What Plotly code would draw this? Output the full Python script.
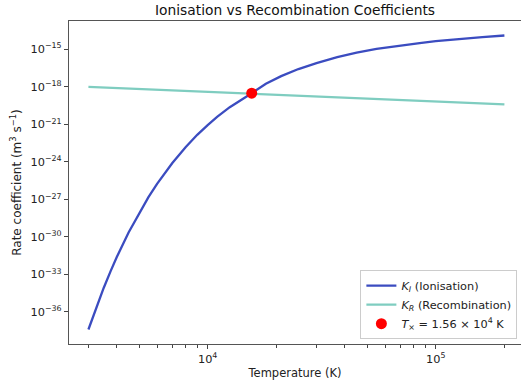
import plotly.graph_objects as go
import numpy as np

# Temperatures (K) and ionisation coefficients
T_ion = [3000, 3250, 3500, 3750, 4000, 4500, 5000, 5500, 6000, 7000, 8000, 9000,
         10000, 11000, 12500, 14000, 15600, 18000, 21000, 25000, 30000, 37000,
         45000, 55000, 70000, 85000, 100000, 125000, 160000, 200000]
K_ion = [3.98e-38, 2.43e-36, 8.3e-35, 1.76e-33, 2.57e-32, 2.24e-30, 7.9e-29, 1.51e-27,
         1.74e-26, 8.1e-25, 1.48e-23, 1.45e-22, 8.7e-22, 3.9e-21, 2.34e-20, 9.5e-20,
         3.1e-19, 1.78e-18, 7.1e-18, 2.63e-17, 7.9e-17, 2.34e-16, 5.4e-16, 1.07e-15,
         2.09e-15, 3.16e-15, 4.47e-15, 6.6e-15, 9.5e-15, 1.26e-14]

# Recombination coefficients
T_rec = [3000, 10000, 100000, 200000]
K_rec = [1.0e-18, 3.94e-19, 6.65e-20, 3.89e-20]

# Crossing point
T_cross = [15600]
K_cross = [3.1e-19]

x_major = [1e4, 1e5]
x_major_text = ["10<sup>4</sup>", "10<sup>5</sup>"]
x_minor = [3000, 4000, 5000, 6000, 7000, 8000, 9000,
           20000, 30000, 40000, 50000, 60000, 70000, 80000, 90000, 200000]
y_exps = [-15, -18, -21, -24, -27, -30, -33, -36]

fig = go.Figure()
fig.add_trace(go.Scatter(x=T_ion, y=K_ion, mode="lines", line=dict(color="#3b4cc0", width=2.3),
                         name="<i>K<sub>I</sub></i> (Ionisation)"))
fig.add_trace(go.Scatter(x=T_rec, y=K_rec, mode="lines", line=dict(color="#7fcdc0", width=2.3),
                         name="<i>K<sub>R</sub></i> (Recombination)"))
fig.add_trace(go.Scatter(x=T_cross, y=K_cross, mode="markers", marker=dict(color="#ff0000", size=11),
                         name="<i>T</i><sub>×</sub> = 1.56 × 10<sup>4</sup> K"))

font = "DejaVu Sans"
fig.update_layout(
    width=521, height=387,
    margin=dict(l=69, r=0, t=21, b=43),
    paper_bgcolor="white", plot_bgcolor="white",
    font=dict(family=font, size=11, color="#222"),
    title=dict(text="Ionisation vs Recombination Coefficients", x=0.5, xanchor="center", xref="paper",
               y=1 - 10.5 / 387, yanchor="middle", yref="container",
               font=dict(size=13.8, family=font, color="#111")),
    showlegend=True,
    legend=dict(x=0.992, y=0.015, xanchor="right", yanchor="bottom",
                bgcolor="rgba(255,255,255,0.8)", bordercolor="#ccc", borderwidth=1,
                font=dict(size=11.3, family=font, color="#222"),
                tracegroupgap=0, itemwidth=30),
)
fig.update_xaxes(type="log", range=[np.log10(2466), np.log10(236500)],
                 tickvals=x_major, ticktext=x_major_text, ticks="outside", ticklen=4,
                 tickcolor="#444", showgrid=False, zeroline=False,
                 showline=True, linecolor="#555", linewidth=1.2, mirror=True,
                 tickfont=dict(size=11.3),
                 minor=dict(tickvals=x_minor, ticks="outside", ticklen=2.5, tickcolor="#444", showgrid=False),
                 title=dict(text="Temperature (K)", standoff=4, font=dict(size=11.5)))
fig.update_yaxes(type="log", range=[-38.56, -12.74],
                 tickvals=[10.0 ** e for e in y_exps],
                 ticktext=["10<sup>−%d</sup>" % (-e) for e in y_exps],
                 ticks="outside", ticklen=4, tickcolor="#444",
                 showgrid=False, zeroline=False, tickfont=dict(size=11.3),
                 showline=True, linecolor="#555", linewidth=1.2, mirror=False,
                 title=dict(text="Rate coefficient (m<sup>3</sup> s<sup>−1</sup>)", standoff=6, font=dict(size=12)))

fig.write_html("out.html")
